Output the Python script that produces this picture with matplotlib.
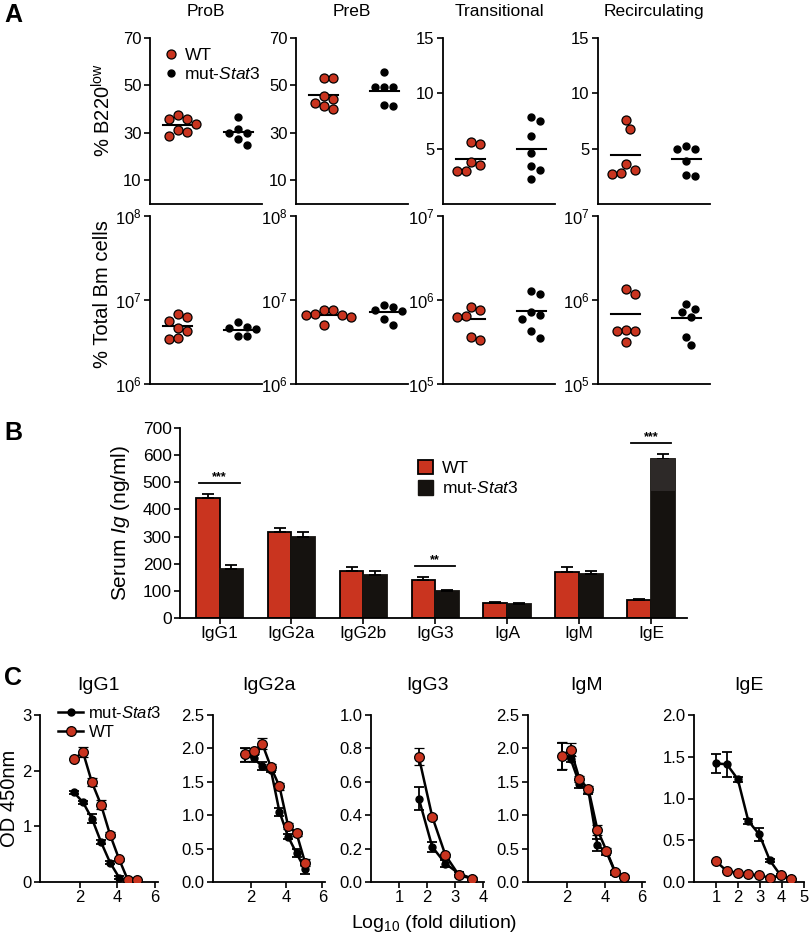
import numpy as np
import matplotlib
matplotlib.use('Agg')
import matplotlib.pyplot as plt
from matplotlib.patches import Patch
from matplotlib.lines import Line2D
from matplotlib.ticker import NullLocator

plt.rcParams['font.family'] = ['Liberation Sans', 'DejaVu Sans']
plt.rcParams['mathtext.fontset'] = 'custom'
plt.rcParams['mathtext.rm'] = 'Liberation Sans'
plt.rcParams['mathtext.it'] = 'Liberation Sans:italic'

RED = '#c9341f'
BLACK = '#15120f'

# ---- panel A: bone marrow B cell subsets ----
groups = ['ProB', 'PreB', 'Transitional', 'Recirculating']
pct_wt = [[37.4, 36.0, 33.9, 36.0, 31.1, 28.8, 30.4],
          [53.3, 53.3, 45.7, 44.3, 42.6, 39.9, 41.5],
          [5.6, 5.4, 3.5, 3.8, 3.0, 3.0],
          [7.6, 6.8, 3.1, 2.7, 2.8, 3.6]]
pct_mut = [[36.7, 30.1, 30.1, 31.8, 24.9, 27.4],
           [55.8, 49.3, 49.3, 49.3, 41.5, 41.9],
           [7.5, 7.9, 6.1, 4.6, 3.4, 3.1, 2.3],
           [5.2, 5.0, 5.0, 3.9, 2.5, 2.6]]
abs_wt = [[6.8e6, 5.6e6, 6.2e6, 4.7e6, 4.3e6, 3.4e6, 3.5e6],
          [6.6e6, 7.5e6, 5.1e6, 6.8e6, 6.2e6, 7.5e6, 6.6e6],
          [8.3e5, 6.5e5, 6.3e5, 7.7e5, 3.3e5, 3.6e5],
          [1.17e6, 1.36e6, 4.35e5, 4.25e5, 4.3e5, 3.2e5]]
abs_mut = [[5.4e6, 4.8e6, 4.5e6, 4.6e6, 3.7e6, 3.7e6],
           [8.8e6, 7.7e6, 7.3e6, 8.2e6, 5.0e6, 5.9e6],
           [1.18e6, 1.27e6, 6.7e5, 7.1e5, 5.9e5, 4.3e5, 3.5e5],
           [9.0e5, 7.2e5, 7.8e5, 6.2e5, 3.6e5, 2.9e5]]

# ---- panel B: serum Ig ----
ig = ['IgG1', 'IgG2a', 'IgG2b', 'IgG3', 'IgA', 'IgM', 'IgE']
ig_wt = [441, 316, 173, 141, 55, 169, 65]
ig_wt_err = [17, 16, 15, 11, 5, 18, 6]
ig_mut = [182, 298, 157, 99, 50, 163, 586]
ig_mut_err = [12, 19, 17, 6, 5, 11, 19]
sig = {0: '***', 3: '**', 6: '***'}

# ---- panel C: ELISA titrations ----
elisa = ['IgG1', 'IgG2a', 'IgG3', 'IgM', 'IgE']
dil_wt = [[1.70, 2.18, 2.65, 3.13, 3.61, 4.09, 4.56, 5.04],
          [1.70, 2.18, 2.65, 3.13, 3.61, 4.09, 4.56, 5.04],
          [1.70, 2.18, 2.65, 3.13, 3.61],
          [1.70, 2.18, 2.65, 3.13, 3.61, 4.09, 4.56, 5.04],
          [1.0, 1.5, 2.0, 2.48, 2.98, 3.46, 3.95, 4.43]]
dil_mut = [[1.70, 2.18, 2.65, 3.13, 3.61, 4.09],
           [1.70, 2.18, 2.65, 3.13, 3.61, 4.09, 4.56, 5.04],
           [1.70, 2.18, 2.65, 3.13, 3.61],
           [1.70, 2.18, 2.65, 3.13, 3.61, 4.09, 4.56, 5.04],
           [1.0, 1.5, 2.0, 2.48, 2.98, 3.46, 3.95, 4.43]]
od_wt = [[2.21, 2.33, 1.79, 1.39, 0.85, 0.41, 0.03, 0.03],
         [1.91, 1.96, 2.07, 1.72, 1.43, 0.84, 0.73, 0.29],
         [0.75, 0.39, 0.16, 0.04, 0.02],
         [1.89, 1.98, 1.54, 1.39, 0.78, 0.47, 0.15, 0.08],
         [0.25, 0.13, 0.11, 0.09, 0.08, 0.05, 0.08, 0.04]]
od_wt_err = [[0.0, 0.09, 0.07, 0.08, 0.04, 0.03, 0.02, 0.02],
             [0.1, 0.05, 0.08, 0.04, 0.05, 0.04, 0.04, 0.05],
             [0.05, 0.01, 0.01, 0.01, 0.01],
             [0.2, 0.1, 0.04, 0.04, 0.07, 0.04, 0.03, 0.02],
             [0.01, 0.01, 0.01, 0.01, 0.01, 0.01, 0.01, 0.01]]
od_mut = [[1.61, 1.43, 1.14, 0.72, 0.35, 0.08],
          [1.90, 1.85, 1.73, 1.68, 1.05, 0.68, 0.43, 0.19],
          [0.50, 0.21, 0.11, 0.05, 0.02],
          [1.88, 1.84, 1.47, 1.36, 0.55, 0.45, 0.14, 0.08],
          [1.42, 1.41, 1.23, 0.73, 0.57, 0.26, 0.08, 0.04]]
od_mut_err = [[0.03, 0.03, 0.08, 0.03, 0.03, 0.02],
              [0.1, 0.05, 0.06, 0.04, 0.06, 0.04, 0.06, 0.07],
              [0.07, 0.03, 0.02, 0.01, 0.01],
              [0.2, 0.05, 0.06, 0.04, 0.09, 0.04, 0.03, 0.02],
              [0.11, 0.15, 0.03, 0.03, 0.08, 0.02, 0.02, 0.02]]

W, H = 812, 935
fig = plt.figure(figsize=(W / 100, H / 100), dpi=100)


def add_ax(l, t, r, b):
    return fig.add_axes([l / W, 1 - b / H, (r - l) / W, (b - t) / H])


def style(ax, size=12):
    for s in ['top', 'right']:
        ax.spines[s].set_visible(False)
    for s in ['left', 'bottom']:
        ax.spines[s].set_linewidth(1.3)
    ax.tick_params(width=1.2, length=4, labelsize=size, pad=2)


def swarm_x(ax, xc, vals, diam):
    # simple beeswarm in pixel space
    pts = ax.transData.transform(np.column_stack([np.full(len(vals), xc), vals]))
    x0, ypx = pts[0, 0], pts[:, 1]
    steps = [0] + [s * j for j in range(1, 12) for s in (1, -1)]
    placed, xs = [], np.zeros(len(vals))
    for i in np.argsort(-ypx):
        for c in steps:
            xp = x0 + c * diam * 0.5
            if all((xp - px) ** 2 + (ypx[i] - py) ** 2 >= diam ** 2 for px, py in placed):
                break
        placed.append((xp, ypx[i]))
        xs[i] = xp
    return ax.transData.inverted().transform(np.column_stack([xs, ypx]))[:, 0]


wt_kw = dict(marker='o', ms=6.5, mfc=RED, mec='k', mew=0.9, ls='none', zorder=3)
mut_kw = dict(marker='o', ms=5, mfc='k', mec='k', ls='none', zorder=3)

a_left = [150, 296, 443, 598]
for i, name in enumerate(groups):
    l = a_left[i]
    for row, (t, b) in enumerate([(38, 204), (216, 384)]):
        ax = add_ax(l, t, l + 112, b)
        style(ax)
        ax.set_xlim(-0.46, 1.39)
        ax.set_xticks([])
        if row == 0:
            if i < 2:
                ax.set_ylim(0, 70)
                ax.set_yticks([10, 30, 50, 70])
            else:
                ax.set_ylim(0, 15)
                ax.set_yticks([5, 10, 15])
            ax.set_title(name, fontsize=12.5, pad=16)
            data = [pct_wt[i], pct_mut[i]]
        else:
            ax.set_yscale('log')
            if i < 2:
                ax.set_ylim(1e6, 1e8)
                ax.set_yticks([1e6, 1e7, 1e8])
            else:
                ax.set_ylim(1e5, 1e7)
                ax.set_yticks([1e5, 1e6, 1e7])
            ax.yaxis.set_minor_locator(NullLocator())
            data = [abs_wt[i], abs_mut[i]]
        for xc, vals, kw in [(0, data[0], wt_kw), (1, data[1], mut_kw)]:
            xs = swarm_x(ax, xc, vals, 9)
            ax.plot(xs, vals, **kw)
            m = np.mean(vals)
            ax.plot([xc - 0.24, xc + 0.24], [m, m], color='k', lw=1.5, zorder=2)
        if i == 0 and row == 0:
            hs = [Line2D([], [], **wt_kw), Line2D([], [], **mut_kw)]
            ax.legend(hs, ['WT', 'mut-$\\mathit{Stat3}$'], loc='upper left',
                      bbox_to_anchor=(0.06, 0.98), frameon=False, fontsize=12.5,
                      handlelength=0.8, handletextpad=0.4, borderaxespad=0,
                      labelspacing=0.15)

fig.text(103 / W, 1 - 110 / H, '% B220$^{\\mathrm{low}}$', rotation=90,
         ha='center', va='center', fontsize=14.5)
fig.text(103 / W, 1 - 294 / H, '% Total Bm cells', rotation=90,
         ha='center', va='center', fontsize=14.5)

# ---- panel B ----
axB = add_ax(180, 428, 687, 618)
style(axB, 12.5)
x = np.arange(len(ig))
w = 0.33
zero = np.zeros(len(ig))
ekw = dict(elinewidth=1.3, capthick=1.3, ecolor='k')
axB.bar(x - w / 2, ig_wt, w, color=RED, edgecolor='k', lw=1.3,
        yerr=[zero, ig_wt_err], capsize=4.5, error_kw=ekw)
axB.bar(x + w / 2, ig_mut, w, color=BLACK, edgecolor=BLACK, lw=1.3,
        yerr=[zero, ig_mut_err], capsize=4.5, error_kw=ekw)
k = int(np.argmax(ig_mut))
axB.bar(x[k] + w / 2, ig_mut[k] * 0.2, w, bottom=ig_mut[k] * 0.8,
        color='#2d2928', lw=0, zorder=2.5)
for idx, stars in sig.items():
    top = max(ig_wt[idx] + ig_wt_err[idx], ig_mut[idx] + ig_mut_err[idx]) + 40
    axB.plot([idx - 0.28, idx + 0.28], [top, top], color='k', lw=1.3)
    axB.text(idx, top + 22, stars, ha='center', va='center', fontsize=9,
             fontweight='bold')
axB.set_xlim(-0.55, 6.5)
axB.set_ylim(0, 700)
axB.set_yticks(range(0, 701, 100))
axB.set_xticks(x)
axB.set_xticklabels(ig)
hs = [Patch(fc=RED, ec='k', lw=1.3), Patch(fc=BLACK, ec=BLACK)]
axB.legend(hs, ['WT', 'mut-$\\mathit{Stat3}$'], loc='upper left',
           bbox_to_anchor=(0.455, 0.87), frameon=False, fontsize=12.5,
           handlelength=0.9, handleheight=0.9, handletextpad=0.5,
           borderaxespad=0, labelspacing=0.25)
fig.text(120 / W, 1 - 523 / H, 'Serum $\\mathit{Ig}$ (ng/ml)', rotation=90,
         ha='center', va='center', fontsize=15)

# ---- panel C ----
c_pos = [(40, 158), (213, 325), (371, 484), (528, 645), (694, 804)]
c_ylim = [3, 2.5, 1.0, 2.5, 2.0]
c_ystep = [1, 0.5, 0.2, 0.5, 0.5]
c_xlim = [(-0.1, 6.15), (-0.1, 6.15), (0, 4.02), (-0.1, 6.15), (0, 5.02)]
c_xticks = [[2, 4, 6], [2, 4, 6], [1, 2, 3, 4], [2, 4, 6], [1, 2, 3, 4, 5]]
for j, name in enumerate(elisa):
    l, r = c_pos[j]
    ax = add_ax(l, 715, r, 882)
    style(ax)
    ax.errorbar(dil_mut[j], od_mut[j], yerr=od_mut_err[j], color='k', lw=1.8,
                marker='o', ms=5, mfc='k', mec='k', capsize=3.5,
                elinewidth=1.3, capthick=1.3, zorder=2)
    ax.errorbar(dil_wt[j], od_wt[j], yerr=od_wt_err[j], color='k', lw=1.8,
                marker='o', ms=7, mfc=RED, mec='k', mew=0.9, capsize=3.5,
                elinewidth=1.3, capthick=1.3, zorder=3)
    ax.set_xlim(*c_xlim[j])
    ax.set_xticks(c_xticks[j])
    ax.set_ylim(0, c_ylim[j])
    yt = np.arange(0, c_ylim[j] + 1e-9, c_ystep[j])
    ax.set_yticks(yt)
    if j == 0:
        ax.set_yticklabels([f'{v:.0f}' for v in yt])
    else:
        ax.set_yticklabels([f'{v:.1f}' for v in yt])
    ax.set_title(name, fontsize=14, pad=18)
    if j == 0:
        hs = [Line2D([], [], color='k', lw=1.8, marker='o', ms=5),
              Line2D([], [], color='k', lw=1.8, marker='o', ms=7, mfc=RED,
                     mec='k', mew=0.9)]
        ax.legend(hs, ['mut-$\\mathit{Stat3}$', 'WT'], loc='upper left',
                  bbox_to_anchor=(0.1, 1.1), frameon=False, fontsize=12,
                  handlelength=1.5, handletextpad=0.3, borderaxespad=0,
                  labelspacing=0.25)

fig.text(10 / W, 1 - 798 / H, 'OD 450nm', rotation=90, ha='center',
         va='center', fontsize=14.5)
fig.text(434 / W, 1 - 923 / H, 'Log$_{10}$ (fold dilution)', ha='center',
         va='center', fontsize=14)

for lab, yb in [('A', 22), ('B', 440), ('C', 685)]:
    fig.text(4 / W, 1 - yb / H, lab, fontsize=18, fontweight='bold',
             va='baseline')

fig.savefig('out.png', dpi=100)
